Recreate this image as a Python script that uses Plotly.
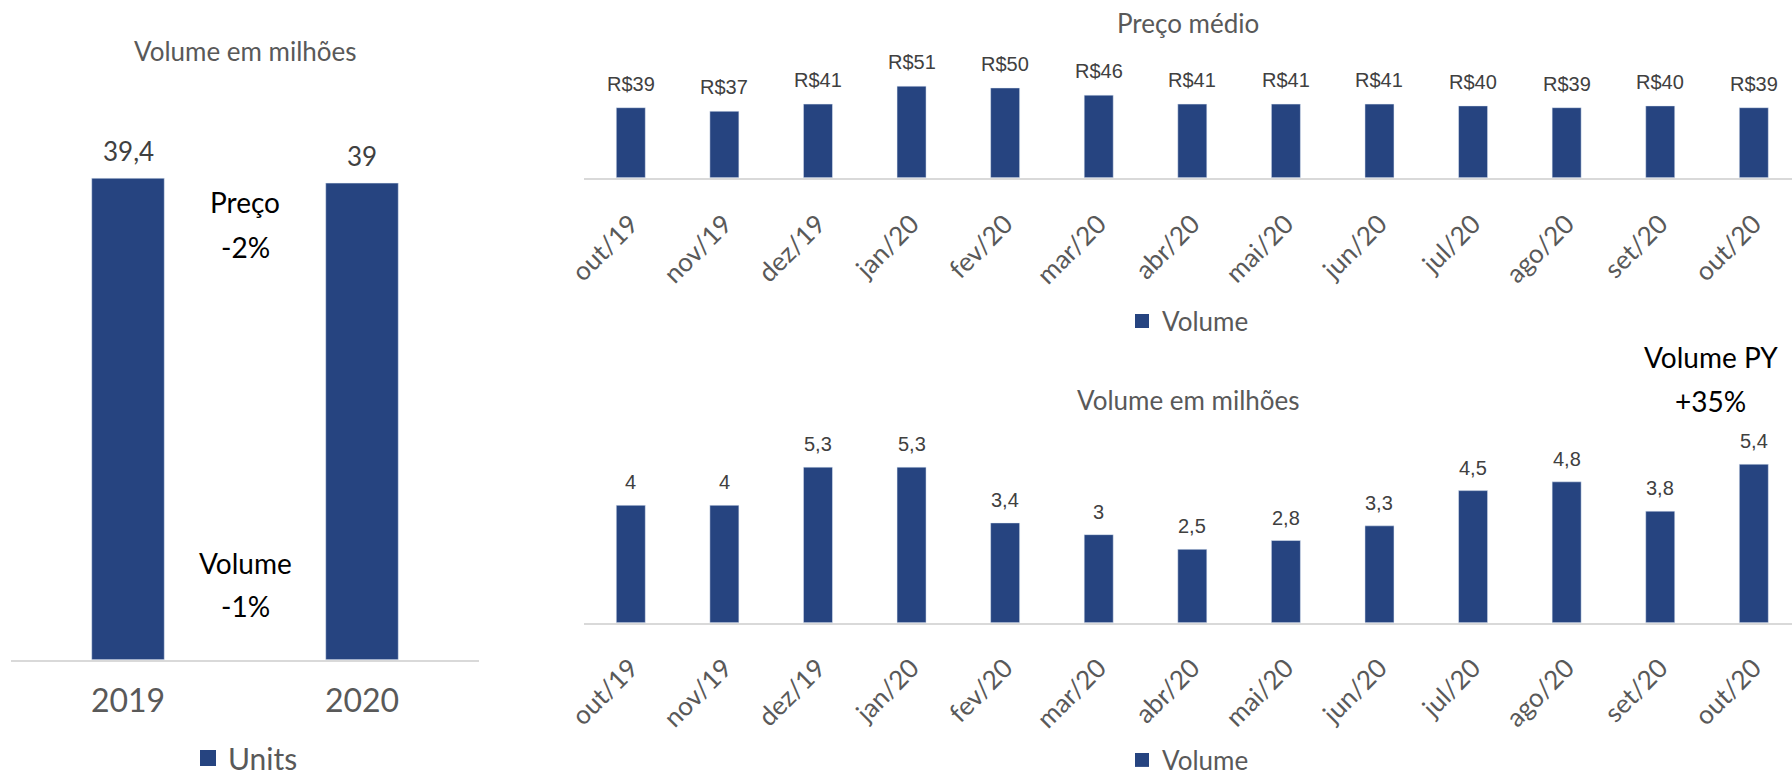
import plotly.graph_objects as go

# ---------------- data ----------------
years = ["2019", "2020"]
units = [39.4, 39.0]

months = ["out/19", "nov/19", "dez/19", "jan/20", "fev/20", "mar/20", "abr/20",
          "mai/20", "jun/20", "jul/20", "ago/20", "set/20", "out/20"]
preco_medio = [39, 37, 41, 51, 50, 46, 41, 41, 41, 40, 39, 40, 39]
volume_mensal = [4.0, 4.0, 5.3, 5.3, 3.4, 3.0, 2.5, 2.8, 3.3, 4.5, 4.8, 3.8, 5.4]

# ---------------- style ----------------
W, H = 1792, 776
BAR = "#264480"
AXIS_LINE = "#D9D9D9"
GRAY = "#595959"
LABEL = "#404040"
LATO = "Lato, Calibri, Carlito, sans-serif"
ARIAL = "Arial, 'Liberation Sans', sans-serif"


def px_x(p):
    return p / W


def px_y(p):
    return 1 - p / H


def br(v):
    return f"{v:g}".replace(".", ",")


fig = go.Figure()

fig.add_trace(go.Bar(x=years, y=units, width=0.31, marker_color=BAR, name="Units",
                     xaxis="x", yaxis="y", showlegend=False))
fig.add_trace(go.Bar(x=months, y=preco_medio, width=0.31, marker_color=BAR, name="Volume",
                     xaxis="x2", yaxis="y2", showlegend=False))
fig.add_trace(go.Bar(x=months, y=volume_mensal, width=0.31, marker_color=BAR, name="Volume",
                     xaxis="x3", yaxis="y3", showlegend=False))

# legend entries (square swatches like the Excel legends)
for name, xa, ya, lg, sz in [("Units", "x", "y", "legend", 16),
                             ("Volume", "x2", "y2", "legend2", 14),
                             ("Volume", "x3", "y3", "legend3", 14)]:
    fig.add_trace(go.Scatter(x=[None], y=[None], mode="markers", name=name,
                             marker=dict(symbol="square", size=sz, color=BAR),
                             xaxis=xa, yaxis=ya, legend=lg, showlegend=True,
                             hoverinfo="skip"))

ann = []
# data labels (x given as category index on the category axes)
for i, v in enumerate(units):
    ann.append(dict(x=i, y=v, xref="x", yref="y", text=br(v), showarrow=False,
                    xanchor="center", yanchor="middle", yshift=27,
                    font=dict(family=LATO, size=26, color=LABEL)))
for i, v in enumerate(preco_medio):
    ann.append(dict(x=i, y=v, xref="x2", yref="y2", text=f"R${v:.0f}", showarrow=False,
                    xanchor="center", yanchor="middle", yshift=24,
                    font=dict(family=ARIAL, size=20, color=LABEL)))
for i, v in enumerate(volume_mensal):
    ann.append(dict(x=i, y=v, xref="x3", yref="y3", text=br(v), showarrow=False,
                    xanchor="center", yanchor="middle", yshift=23,
                    font=dict(family=ARIAL, size=20, color=LABEL)))

# titles
title_font = dict(family=LATO, size=26, color=GRAY)
for txt, xx, yy in [("Volume em milhões", 245, 51), ("Preço médio", 1188, 23),
                    ("Volume em milhões", 1188, 400)]:
    ann.append(dict(x=px_x(xx), y=px_y(yy), xref="paper", yref="paper", text=txt,
                    xanchor="center", yanchor="middle", showarrow=False, font=title_font))

# callouts
call_font = dict(family=LATO, size=28, color="#000000")
for txt, xx, yy in [("Preço", 245, 202), ("-2%", 245, 247),
                    ("Volume", 245, 563), ("-1%", 245, 606),
                    ("Volume PY", 1711, 357), ("+35%", 1710, 401)]:
    ann.append(dict(x=px_x(xx), y=px_y(yy), xref="paper", yref="paper", text=txt,
                    xanchor="center", yanchor="middle", showarrow=False, font=call_font))

xr = [-0.5, 12.408]
common_x = dict(type="category", showline=True, linecolor=AXIS_LINE, linewidth=1.5,
                ticks="", showgrid=False, zeroline=False, fixedrange=True)
hidden_y = dict(visible=False, showgrid=False, zeroline=False, fixedrange=True)

fig.update_layout(
    width=W, height=H,
    margin=dict(l=0, r=0, t=0, b=0, autoexpand=False),
    paper_bgcolor="white", plot_bgcolor="white",
    showlegend=True,
    annotations=ann,
    xaxis=dict(domain=[px_x(11), px_x(479)], anchor="y", range=[-0.5, 1.5],
               tickfont=dict(family=LATO, size=32, color=GRAY), ticklabelstandoff=12, **common_x),
    yaxis=dict(domain=[px_y(659.7), px_y(659.7 - 45 * 12.22)], anchor="x", range=[0, 45], **hidden_y),
    xaxis2=dict(domain=[px_x(584), 1.0], anchor="y2", range=xr, tickangle=-45,
                tickfont=dict(family=LATO, size=26, color=GRAY), ticklabelstandoff=19, **common_x),
    yaxis2=dict(domain=[px_y(177.7), px_y(177.7 - 60 * 1.795)], anchor="x2", range=[0, 60], **hidden_y),
    xaxis3=dict(domain=[px_x(584), 1.0], anchor="y3", range=xr, tickangle=-45,
                tickfont=dict(family=LATO, size=26, color=GRAY), ticklabelstandoff=18, **common_x),
    yaxis3=dict(domain=[px_y(622.7), px_y(622.7 - 6 * 29.35)], anchor="x3", range=[0, 6], **hidden_y),
    legend=dict(x=px_x(188), y=px_y(758), xanchor="left", yanchor="middle",
                font=dict(family=LATO, size=30, color=GRAY), bgcolor="rgba(0,0,0,0)"),
    legend2=dict(x=px_x(1122), y=px_y(321), xanchor="left", yanchor="middle",
                 font=dict(family=LATO, size=26, color=GRAY), bgcolor="rgba(0,0,0,0)"),
    legend3=dict(x=px_x(1122), y=px_y(760), xanchor="left", yanchor="middle",
                 font=dict(family=LATO, size=26, color=GRAY), bgcolor="rgba(0,0,0,0)"),
)

fig.write_html("out.html", config={"displayModeBar": False},
               post_script="document.body.style.margin='0';document.body.style.overflow='hidden';")
